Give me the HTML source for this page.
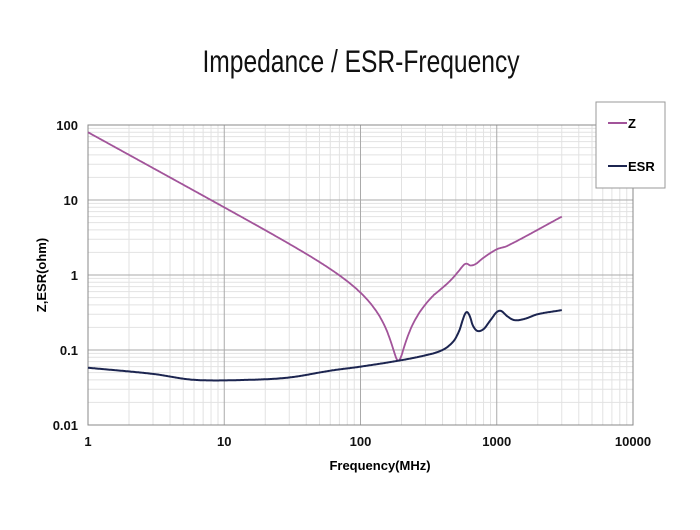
<!DOCTYPE html><html><head><style>body{margin:0;background:#fff}svg{display:block}</style></head><body>
<svg id="s" width="700" height="530" xmlns="http://www.w3.org/2000/svg" font-family="Liberation Sans, Arial, sans-serif">
<rect width="700" height="530" fill="#fff"/>
<text transform="translate(361,72) scale(0.82,1.05)" text-anchor="middle" font-size="30" fill="#111">Impedance / ESR-Frequency</text>
<g id="grid"></g>
<g id="lab" font-weight="bold" font-size="13" fill="#111"></g>
<text x="380" y="470" text-anchor="middle" font-weight="bold" font-size="13">Frequency(MHz)</text>
<text transform="translate(46,275) rotate(-90)" text-anchor="middle" font-weight="bold" font-size="13">Z,ESR(ohm)</text>
<path id="z" fill="none" stroke="#a2549a" stroke-width="1.8"/>
<path id="e" fill="none" stroke="#1c2550" stroke-width="2"/>
<rect x="596" y="102" width="69" height="86" fill="#fff" stroke="#999"/>
<line x1="608" y1="123" x2="627" y2="123" stroke="#a2549a" stroke-width="2"/>
<text x="628" y="128" font-weight="bold" font-size="13">Z</text>
<line x1="608" y1="166" x2="627" y2="166" stroke="#1c2550" stroke-width="2"/>
<text x="628" y="171" font-weight="bold" font-size="13">ESR</text>
</svg>
<script>
const L=88,R=633,T=125,B=425,dx=(R-L)/4,dy=75;
const X=f=>L+Math.log10(f)*dx, Y=v=>B-(Math.log10(v)+2)*dy;
let g='';
for(let d=0;d<4;d++)for(let k=2;k<10;k++){let x=X(Math.pow(10,d)*k);g+=`<line x1="${x}" y1="${T}" x2="${x}" y2="${B}" stroke="#e2e2e2"/>`;}
for(let d=-2;d<2;d++)for(let k=2;k<10;k++){let y=Y(Math.pow(10,d)*k);g+=`<line x1="${L}" y1="${y}" x2="${R}" y2="${y}" stroke="#e2e2e2"/>`;}
for(let i=0;i<=4;i++){g+=`<line x1="${L+i*dx}" y1="${T}" x2="${L+i*dx}" y2="${B}" stroke="#aaa"/>`;g+=`<line x1="${L}" y1="${T+i*dy}" x2="${R}" y2="${T+i*dy}" stroke="#aaa"/>`;}
g+=`<rect x="${L}" y="${T}" width="${R-L}" height="${B-T}" fill="none" stroke="#888"/>`;
document.getElementById('grid').innerHTML=g;
let lb='';['1','10','100','1000','10000'].forEach((t,i)=>lb+=`<text x="${L+i*dx}" y="446" text-anchor="middle">${t}</text>`);
['100','10','1','0.1','0.01'].forEach((t,i)=>lb+=`<text x="78" y="${T+i*dy+5}" text-anchor="end">${t}</text>`);
document.getElementById('lab').innerHTML=lb;
const ep=[[1,0.058],[3,0.048],[6,0.04],[15,0.04],[30,0.043],[60,0.053],[100,0.06],[190,0.072],[300,0.085],[400,0.1],[480,0.13],[530,0.18],[570,0.27],[600,0.32],[630,0.29],[670,0.21],[720,0.18],[800,0.19],[900,0.25],[1000,0.32],[1080,0.33],[1200,0.28],[1350,0.25],[1600,0.26],[2000,0.3],[3000,0.34]];
function interp(p,f){const lf=Math.log(f);for(let i=0;i<p.length-1;i++){if(f<=p[i+1][0]){
 const P=j=>{j=Math.max(0,Math.min(p.length-1,j));return [Math.log(p[j][0]),Math.log(p[j][1])];};
 let a=P(i),b=P(i+1),a0=P(i-1),b1=P(i+2);let h=b[0]-a[0],t=(lf-a[0])/h;
 let m0=(b[1]-a0[1])/(b[0]-a0[0]||1),m1=(b1[1]-a[1])/(b1[0]-a[0]||1);
 let t2=t*t,t3=t2*t;let v=(2*t3-3*t2+1)*a[1]+(t3-2*t2+t)*h*m0+(-2*t3+3*t2)*b[1]+(t3-t2)*h*m1;return Math.exp(v);}}return p[p.length-1][1];}
let ed='',zd='';
const zp=[[350,0.55],[450,0.82],[520,1.1],[570,1.35],[600,1.42],[640,1.34],[700,1.4],[800,1.7],[1000,2.2],[1200,2.45],[3000,6]];
for(let i=0;i<=800;i++){let f=Math.pow(10,i/800*Math.log10(3000));
 ed+=(i?'L':'M')+X(f).toFixed(1)+','+Y(interp(ep,f)).toFixed(1);
 let z;if(f<350){let r=interp(ep,f),x=80/f-80/(190*190)*f;z=Math.sqrt(r*r+x*x);}else z=interp(zp,f);
 zd+=(i?'L':'M')+X(f).toFixed(1)+','+Y(z).toFixed(1);}
document.getElementById('e').setAttribute('d',ed);document.getElementById('z').setAttribute('d',zd);
</script></body></html>
